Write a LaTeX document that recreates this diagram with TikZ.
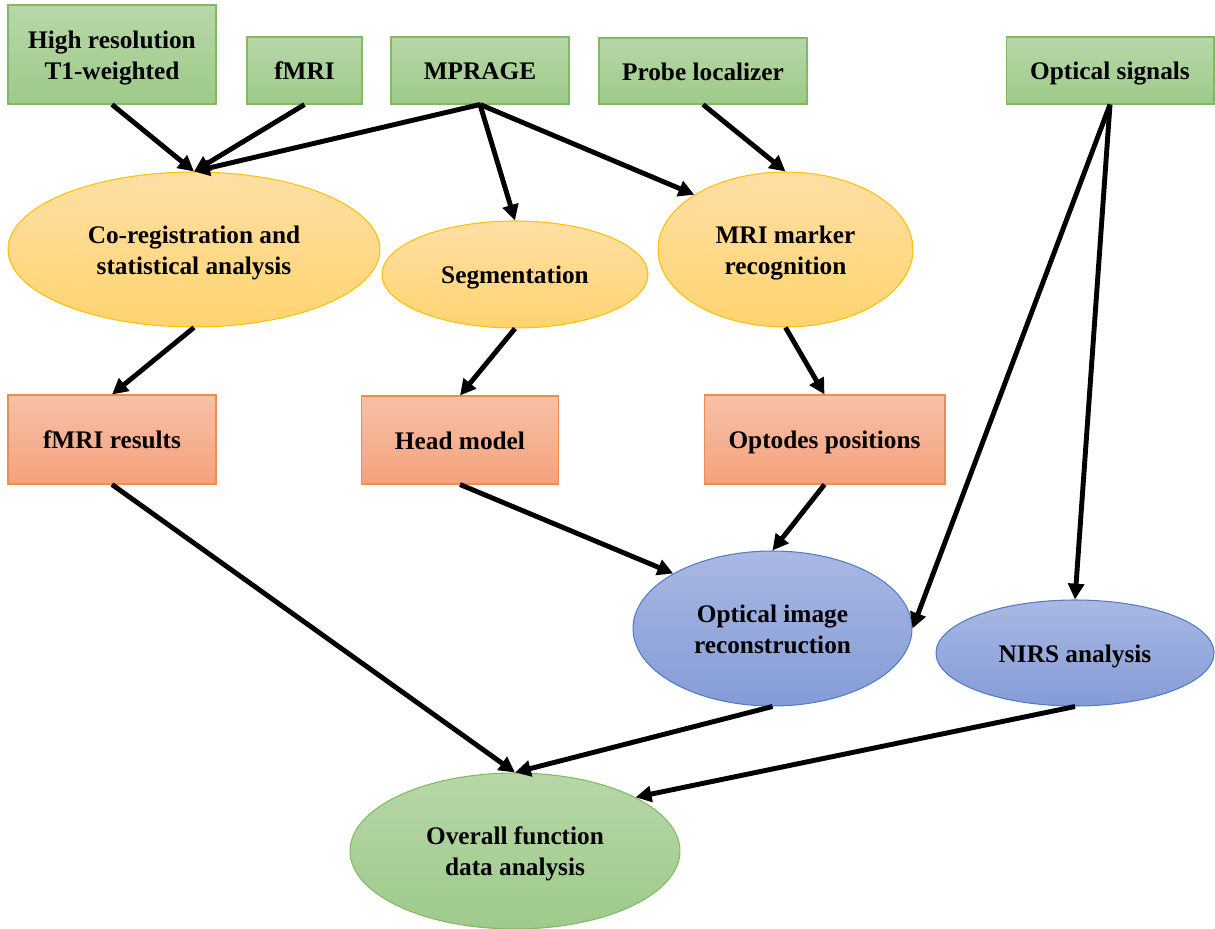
\documentclass[tikz,border=0pt]{standalone}
\usepackage{fontspec}
\setmainfont{Liberation Serif}
\usetikzlibrary{shapes.geometric,arrows.meta,shadings}
\definecolor{gtop}{RGB}{183,215,168}
\definecolor{gbot}{RGB}{158,202,138}
\definecolor{gdraw}{RGB}{130,186,100}
\definecolor{otop}{RGB}{255,223,165}
\definecolor{obot}{RGB}{255,212,112}
\definecolor{odraw}{RGB}{255,192,0}
\definecolor{stop}{RGB}{247,192,168}
\definecolor{sbot}{RGB}{244,162,124}
\definecolor{sdraw}{RGB}{240,140,80}
\definecolor{btop}{RGB}{170,184,226}
\definecolor{bbot}{RGB}{132,156,215}
\definecolor{bdraw}{RGB}{80,125,200}
\newcommand{\txt}[1]{\raisebox{0pt}[\dimexpr\height+3.4pt\relax][\depth]{\begin{tabular}{@{}c@{}}#1\end{tabular}}}
\tikzset{
  lbl/.style={font=\fontsize{14.4}{17.6}\selectfont\bfseries, inner sep=0pt},
  greenbox/.style={lbl, rectangle, draw=gdraw, line width=0.6pt, top color=gtop, bottom color=gbot},
  greenell/.style={lbl, ellipse, draw=gdraw, line width=0.6pt, top color=gtop, bottom color=gbot},
  orangeell/.style={lbl, ellipse, draw=odraw, line width=0.6pt, top color=otop, bottom color=obot},
  salmonbox/.style={lbl, rectangle, draw=sdraw, line width=0.6pt, top color=stop, bottom color=sbot},
  blueell/.style={lbl, ellipse, draw=bdraw, line width=0.6pt, top color=btop, bottom color=bbot},
  conn/.style={line width=2.8pt, -{Triangle[length=9pt,width=9pt]}, line cap=butt},
}
\begin{document}
\begin{tikzpicture}[x=0.02cm,y=-0.02cm]
\useasboundingbox (0,0) rectangle (1215,929);
% top row
\node[greenbox, minimum width=4.16cm, minimum height=1.98cm] (t1) at (112,54.5) {\txt{High resolution\\T1-weighted}};
\node[greenbox, minimum width=2.30cm, minimum height=1.34cm] (fmri) at (304.5,70.5) {\txt{fMRI}};
\node[greenbox, minimum width=3.56cm, minimum height=1.34cm] (mprage) at (480,70.5) {\txt{MPRAGE}};
\node[greenbox, minimum width=4.16cm, minimum height=1.32cm] (probe) at (703,71) {\txt{Probe localizer}};
\node[greenbox, minimum width=4.16cm, minimum height=1.34cm] (optsig) at (1110,70.5) {\txt{Optical signals}};
% orange ellipses
\node[orangeell, minimum width=7.44cm, minimum height=3.10cm] (coreg) at (194,249.5) {\txt{Co-registration and\\statistical analysis}};
\node[orangeell, minimum width=5.32cm, minimum height=2.14cm] (seg) at (515,274.5) {\txt{Segmentation}};
\node[orangeell, minimum width=5.10cm, minimum height=3.10cm] (mri) at (785.5,249.5) {\txt{MRI marker\\recognition}};
% salmon boxes
\node[salmonbox, minimum width=4.16cm, minimum height=1.78cm] (fres) at (112,439.5) {\txt{fMRI results}};
\node[salmonbox, minimum width=3.94cm, minimum height=1.76cm] (head) at (460,440) {\txt{Head model}};
\node[salmonbox, minimum width=4.82cm, minimum height=1.78cm] (optodes) at (824.5,439.5) {\txt{Optodes positions}};
% blue ellipses
\node[blueell, minimum width=5.58cm, minimum height=3.10cm] (optrec) at (772.5,628.5) {\txt{Optical image\\reconstruction}};
\node[blueell, minimum width=5.56cm, minimum height=2.12cm] (nirs) at (1075,653) {\txt{NIRS analysis}};
% bottom
\node[greenell, minimum width=6.60cm, minimum height=3.12cm] (overall) at (515,851) {\txt{Overall function\\data analysis}};
% connectors
\draw[conn] (t1.south) -- (coreg.north);
\draw[conn] (fmri.south) -- (coreg.north);
\draw[conn] (mprage.south) -- (coreg.north);
\draw[conn] (mprage.south) -- (seg.north);
\draw[conn] (mprage.south) -- (mri.149);
\draw[conn] (probe.south) -- (mri.north);
\draw[conn] (coreg.south) -- (fres.north);
\draw[conn] (seg.south) -- (head.north);
\draw[conn] (mri.south) -- (optodes.north);
\draw[conn] (fres.south) -- (overall.north);
\draw[conn] (head.south) -- (optrec.151);
\draw[conn] (optodes.south) -- (optrec.north);
\draw[conn] (optsig.south) -- (optrec.east);
\draw[conn] (optsig.south) -- (nirs.north);
\draw[conn] (optrec.south) -- (overall.north);
\draw[conn] (nirs.south) -- (overall.24);
\end{tikzpicture}
\end{document}
